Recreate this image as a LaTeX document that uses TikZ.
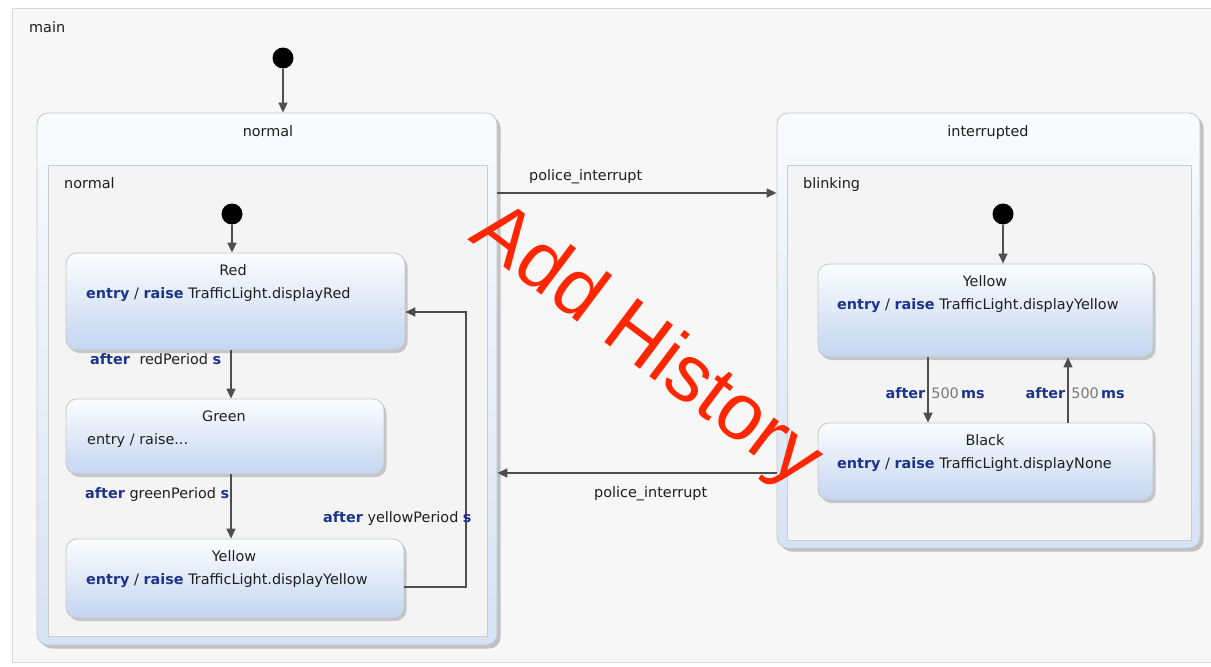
\documentclass[tikz,border=0pt]{standalone}
\usepackage{fontspec}
\setmainfont{DejaVu Sans}
\newfontfamily\stampfont{Liberation Sans}
\usetikzlibrary{arrows.meta,shadows}

\definecolor{kwblue}{RGB}{28,52,140}
\definecolor{edgegray}{RGB}{78,78,78}
\definecolor{txtgray}{RGB}{30,30,30}
\definecolor{numgray}{RGB}{120,120,120}
\definecolor{statetop}{RGB}{252,253,255}
\definecolor{statebot}{RGB}{196,214,240}
\definecolor{comptop}{RGB}{250,251,253}
\definecolor{compbot}{RGB}{214,227,246}
\definecolor{regionfill}{RGB}{244,244,244}
\definecolor{mainfill}{RGB}{247,247,247}
\definecolor{stampred}{RGB}{255,38,0}

\newcommand{\kw}[1]{\textcolor{kwblue}{\textbf{#1}}}

\tikzset{
  trans/.style={draw=edgegray, line width=1.4pt, ->},
  initdot/.style={circle, fill=black, inner sep=0pt, minimum size=21pt},
  composite/.style={draw=black!22, line width=0.8pt, rounded corners=11pt, top color=comptop, bottom color=compbot,
    drop shadow={shadow xshift=3.5pt, shadow yshift=-3.5pt, opacity=0.45}},
  region/.style={draw=black!20, line width=0.8pt, fill=regionfill},
  leaf/.style={draw=black!22, line width=0.8pt, rounded corners=11pt, top color=statetop, bottom color=statebot,
    drop shadow={shadow xshift=2.5pt, shadow yshift=-3pt, opacity=0.4}},
  lbl/.style={text=txtgray, inner sep=0pt}
}

\begin{document}
\begin{tikzpicture}[x=1pt, y=-1pt, >={Triangle[length=10pt,width=9pt]}, font=\fontsize{14.4}{17}\selectfont]
\useasboundingbox[fill=white] (0,0) rectangle (1211,667);

% main region
\node[draw=black!15, fill=mainfill, minimum width=1205pt, minimum height=654pt, inner sep=0pt] (main) at (614.5,335) {};
\node[lbl, anchor=base west] (mainlbl) at (29,32) {main};

% composite states and regions
\node[composite, minimum width=460pt, minimum height=532pt, inner sep=0pt] (normalbox) at (267,379) {};
\node[region, minimum width=439pt, minimum height=471pt, inner sep=0pt] (normalreg) at (267.5,400.5) {};
\node[composite, minimum width=423pt, minimum height=435pt, inner sep=0pt] (intbox) at (988.5,330.5) {};
\node[region, minimum width=404pt, minimum height=375pt, inner sep=0pt] (blinkreg) at (989,352.5) {};

\node[lbl, anchor=base] (normalttl) at (268,136) {normal};
\node[lbl, anchor=base west] (normalrlbl) at (64,188) {normal};
\node[lbl, anchor=base] (intttl) at (988,136) {interrupted};
\node[lbl, anchor=base west] (blinklbl) at (803,188) {blinking};

% initial states
\node[initdot] (init0) at (283,58) {};
\node[initdot] (init1) at (232,214) {};
\node[initdot] (init2) at (1003,214) {};

% leaf states
\node[leaf, minimum width=339pt, minimum height=97pt, inner sep=0pt] (red) at (235.5,301.5) {};
\node[leaf, minimum width=318pt, minimum height=75pt, inner sep=0pt] (green) at (225,436.5) {};
\node[leaf, minimum width=338pt, minimum height=79pt, inner sep=0pt] (yellow) at (235,578.5) {};
\node[leaf, minimum width=335pt, minimum height=93pt, inner sep=0pt] (byellow) at (985.5,310.5) {};
\node[leaf, minimum width=335pt, minimum height=77pt, inner sep=0pt] (bblack) at (985.5,461.5) {};

\node[lbl, anchor=base] (redttl) at (233,275) {Red};
\node[lbl, anchor=base west] (redentry) at (86,298) {\kw{entry} / \kw{raise} TrafficLight.displayRed};
\node[lbl, anchor=base] (greenttl) at (224,421) {Green};
\node[lbl, anchor=base west] (greenentry) at (87,444) {entry / raise...};
\node[lbl, anchor=base] (yellowttl) at (234,561) {Yellow};
\node[lbl, anchor=base west] (yellowentry) at (86,584) {\kw{entry} / \kw{raise} TrafficLight.displayYellow};
\node[lbl, anchor=base] (byellowttl) at (985,286) {Yellow};
\node[lbl, anchor=base west] (byellowentry) at (837,309) {\kw{entry} / \kw{raise} TrafficLight.displayYellow};
\node[lbl, anchor=base] (bblackttl) at (985,445) {Black};
\node[lbl, anchor=base west] (bblackentry) at (837,468) {\kw{entry} / \kw{raise} TrafficLight.displayNone};

% transitions
\coordinate (loopcorner) at (466,312);
\draw[trans] (init0) -- (init0 |- normalbox.north);
\draw[trans] (init1) -- (init1 |- red.north);
\draw[trans] (init2) -- (init2 |- byellow.north);
\draw[trans] (red.south -| 231,0) -- (green.north -| 231,0);
\draw[trans] (green.south -| 231,0) -- (yellow.north -| 231,0);
\draw[trans] ([yshift=-8.5pt]yellow.east) -| (loopcorner) -- ([yshift=-10.5pt]red.east);
\draw[trans] (normalbox.east |- 0,193) -- (intbox.west |- 0,193);
\draw[trans] (intbox.west |- 0,473) -- (normalbox.east |- 0,473);
\draw[trans] (byellow.south -| 928,0) -- (bblack.north -| 928,0);
\draw[trans] (bblack.north -| 1068,0) -- (byellow.south -| 1068,0);

% transition labels
\node[lbl, anchor=base west] (redafter) at (90,364) {\kw{after}\hspace{5pt} redPeriod \kw{s}};
\node[lbl, anchor=base west] (greenafter) at (85,498) {\kw{after} greenPeriod \kw{s}};
\node[lbl, anchor=base west] (yellowafter) at (323,522) {\kw{after} yellowPeriod \kw{s}};
\node[lbl, anchor=base west] (policeto) at (529,180) {police\_interrupt};
\node[lbl, anchor=base west] (policeback) at (594,497) {police\_interrupt};
\node[lbl, anchor=base east] (blinkdown) at (985,398) {\kw{after}\hspace{6pt}\textcolor{numgray}{500}\,\kw{ms}};
\node[lbl, anchor=base east] (blinkup) at (1125,398) {\kw{after}\hspace{6pt}\textcolor{numgray}{500}\,\kw{ms}};

% stamp
\node[anchor=base, rotate=-37, text=stampred, inner sep=0pt, font=\stampfont\fontsize{80}{90}\selectfont] (stamp) at (633,364) {Add History};
\end{tikzpicture}
\end{document}
